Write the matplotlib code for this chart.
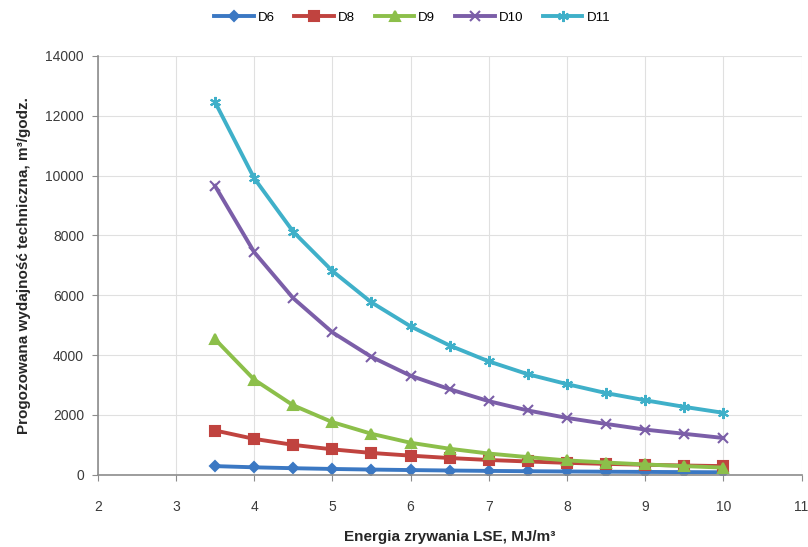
import numpy as np
import matplotlib.pyplot as plt

plt.rcParams['font.family'] = ['Liberation Sans', 'DejaVu Sans']

# energy values (x) and predicted output for each machine
energia = [3.5, 4.0, 4.5, 5.0, 5.5, 6.0, 6.5, 7.0, 7.5, 8.0, 8.5, 9.0, 9.5, 10.0]
d6 = [290, 250, 220, 195, 175, 158, 143, 130, 120, 111, 103, 96, 90, 84]
d8 = [1480, 1200, 1000, 850, 730, 640, 560, 495, 445, 400, 365, 335, 310, 290]
d9 = [4530, 3180, 2320, 1760, 1370, 1070, 870, 710, 590, 480, 410, 345, 290, 240]
d10 = [9650, 7440, 5900, 4760, 3940, 3310, 2860, 2460, 2150, 1900, 1700, 1510, 1370, 1230]
d11 = [12450, 9910, 8120, 6810, 5760, 4960, 4320, 3790, 3360, 3030, 2730, 2490, 2270, 2070]

series = [
    ("D6", d6, "#3b78c3", "D", 5),
    ("D8", d8, "#c0433f", "s", 7),
    ("D9", d9, "#8cbf4a", "^", 7),
    ("D10", d10, "#7b5ea8", "x", 7),
    ("D11", d11, "#3fb0c9", (6, 2, 0), 8),
]

fig = plt.figure(figsize=(8.08, 5.47), dpi=100)
ax = fig.add_axes([0.121, 0.132, 0.871, 0.766])

for name, vals, col, mk, ms in series:
    ax.plot(energia, vals, color=col, lw=2.8, marker=mk, markersize=ms,
            markeredgewidth=1.5, markeredgecolor=col, label=name)

ax.set_xlim(2, 11)
ax.set_ylim(0, 14000)
ax.set_xticks(range(2, 12))
ax.set_yticks(range(0, 14001, 2000))
ax.grid(True, color="#e0e0e0", lw=0.8)
ax.set_axisbelow(True)
for s in ["top", "right"]:
    ax.spines[s].set_visible(False)
for s in ["left", "bottom"]:
    ax.spines[s].set_color("#8c8c8c")
    ax.spines[s].set_linewidth(1.2)
ax.tick_params(colors="#8c8c8c", labelcolor="#3a3a3a", labelsize=10, length=4)
ax.tick_params(axis="x", pad=14)
ax.tick_params(axis="y", pad=6)

ax.set_xlabel("Energia zrywania LSE, MJ/m³", fontsize=11, fontweight="bold",
              color="#262626", labelpad=12)
ax.set_ylabel("Progozowana wydajność techniczna, m³/godz.", fontsize=11,
              fontweight="bold", color="#262626", labelpad=10)

fig.legend(loc="upper center", bbox_to_anchor=(0.51, 1.0), ncol=5, frameon=False,
           fontsize=9.5, handlelength=3, columnspacing=1.5, handletextpad=0.3)

fig.savefig("out.png", dpi=100)
